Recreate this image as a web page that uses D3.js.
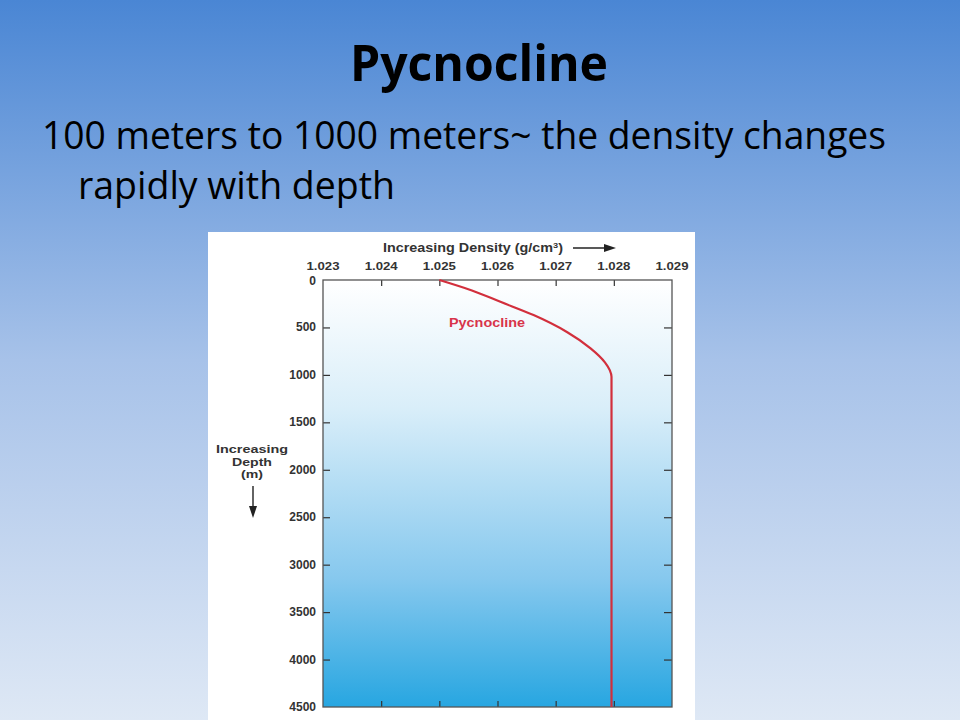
<!DOCTYPE html>
<html>
<head>
<meta charset="utf-8">
<script src="https://cdn.jsdelivr.net/npm/d3@7"></script>
<style>
  html, body { margin: 0; padding: 0; }
  body { width: 960px; height: 720px; overflow: hidden; }
</style>
</head>
<body>
<div class="slide"></div>
<script>
  // slide texts
  let title = 'Pycnocline'
  let bulletLines = ['100 meters to 1000 meters~ the density changes', 'rapidly with depth']

  // chart data
  let densityTicks = [1.023, 1.024, 1.025, 1.026, 1.027, 1.028, 1.029]
  let depthTicks = [0, 500, 1000, 1500, 2000, 2500, 3000, 3500, 4000, 4500]
  let profileDepth = [0, 110, 230, 370, 550, 720, 870, 950, 1020, 1200, 4500]
  let profileDensity = [1.0250, 1.02556, 1.02605, 1.02662, 1.0272, 1.0276, 1.02785, 1.02793, 1.02796, 1.02796, 1.02796]

  let svg = d3.select('.slide').append('svg')
    .attr('width', 960)
    .attr('height', 720)
  let defs = svg.append('defs')

  // slide background
  let bg = defs.append('linearGradient').attr('id', 'bg')
    .attr('x1', 0).attr('y1', 0).attr('x2', 0).attr('y2', 1)
  bg.selectAll('stop')
    .data([[0, '#4a86d4'], [0.5, '#a7c2e9'], [1, '#dee8f5']])
    .enter().append('stop')
    .attr('offset', d => d[0])
    .attr('stop-color', d => d[1])
  svg.append('rect').attr('width', 960).attr('height', 720).style('fill', 'url(#bg)')

  // title + bullet text
  svg.append('text')
    .attr('x', 479).attr('y', 81)
    .attr('text-anchor', 'middle')
    .attr('textLength', 258).attr('lengthAdjust', 'spacingAndGlyphs')
    .style('font-family', 'Open Sans, sans-serif')
    .style('font-weight', 'bold')
    .style('font-size', '50px')
    .style('fill', '#000')
    .text(title)
  let bulletPos = [{x: 42, y: 149, w: 844}, {x: 78, y: 199, w: 317}]
  svg.selectAll('text.bullet').data(bulletLines)
    .enter().append('text')
    .attr('class', 'bullet')
    .attr('x', (d, i) => bulletPos[i].x)
    .attr('y', (d, i) => bulletPos[i].y)
    .attr('textLength', (d, i) => bulletPos[i].w)
    .attr('lengthAdjust', 'spacingAndGlyphs')
    .style('font-family', 'Open Sans, sans-serif')
    .style('font-size', '38px')
    .style('fill', '#000')
    .text(d => d)

  // chart image box
  svg.append('rect')
    .attr('x', 208).attr('y', 232).attr('width', 487).attr('height', 488)
    .style('fill', '#fff')

  let plot = {left: 323, right: 672, top: 280, bottom: 707}
  let x = d3.scaleLinear().domain([1.023, 1.029]).range([plot.left, plot.right])
  let y = d3.scaleLinear().domain([0, 4500]).range([plot.top, plot.bottom])

  let water = defs.append('linearGradient').attr('id', 'water')
    .attr('x1', 0).attr('y1', 0).attr('x2', 0).attr('y2', 1)
  water.selectAll('stop')
    .data([[0, '#ffffff'], [0.3, '#d9eef9'], [0.7, '#86c8ee'], [1, '#27a6e1']])
    .enter().append('stop')
    .attr('offset', d => d[0])
    .attr('stop-color', d => d[1])
  svg.append('rect')
    .attr('x', plot.left).attr('y', plot.top)
    .attr('width', plot.right - plot.left).attr('height', plot.bottom - plot.top)
    .style('fill', 'url(#water)')

  let labelFont = g => g.style('font-family', 'Liberation Sans, Arial, sans-serif')
    .style('font-weight', 'bold').style('font-size', '11.5px').style('fill', '#333')

  // axes (ticks inside the frame)
  let inner = densityTicks.slice(1, -1)
  let innerDepth = depthTicks.slice(1, -1)
  let axisStyle = g => {
    g.select('.domain').remove()
    g.selectAll('.tick line').style('stroke', '#333').style('stroke-width', 1.2)
    g.selectAll('.tick text').remove()
  }
  svg.append('g').attr('transform', `translate(0,${plot.top})`)
    .call(d3.axisBottom(x).tickValues(inner).tickSize(6)).call(axisStyle)
  svg.append('g').attr('transform', `translate(0,${plot.bottom})`)
    .call(d3.axisTop(x).tickValues(inner).tickSize(6)).call(axisStyle)
  svg.append('g').attr('transform', `translate(${plot.left},0)`)
    .call(d3.axisRight(y).tickValues(innerDepth).tickSize(7)).call(axisStyle)
  svg.append('g').attr('transform', `translate(${plot.right},0)`)
    .call(d3.axisLeft(y).tickValues(innerDepth).tickSize(8)).call(axisStyle)

  svg.append('rect')
    .attr('x', plot.left).attr('y', plot.top)
    .attr('width', plot.right - plot.left).attr('height', plot.bottom - plot.top)
    .style('fill', 'none').style('stroke', '#555').style('stroke-width', 1.3)

  // tick labels
  svg.selectAll('text.xlab').data(densityTicks)
    .enter().append('text').attr('class', 'xlab')
    .attr('x', d => x(d) - 16.5).attr('y', 270)
    .attr('textLength', 33).attr('lengthAdjust', 'spacingAndGlyphs')
    .call(labelFont)
    .text(d => d3.format('.3f')(d))
  svg.selectAll('text.ylab').data(depthTicks)
    .enter().append('text').attr('class', 'ylab')
    .attr('x', 316).attr('y', d => y(d) + (d === 0 ? 5 : 4))
    .attr('text-anchor', 'end')
    .call(labelFont)
    .style('font-size', '12px')
    .text(d => d)

  // axis titles
  svg.append('text')
    .attr('x', 383).attr('y', 252)
    .call(labelFont)
    .style('font-size', '12.5px')
    .attr('textLength', 180).attr('lengthAdjust', 'spacingAndGlyphs')
    .html('Increasing Density (g/cm<tspan dy="-4" font-size="8px">3</tspan><tspan dy="4">)</tspan>')
  svg.append('line')
    .attr('x1', 573).attr('x2', 608).attr('y1', 248).attr('y2', 248)
    .style('stroke', '#222').style('stroke-width', 1.4)
  svg.append('path')
    .attr('d', 'M616,248 L604,244 L604,252 Z').style('fill', '#222')

  let yTitle = [{t: 'Increasing', w: 72}, {t: 'Depth', w: 40}, {t: '(m)', w: 22}]
  svg.selectAll('text.ytitle').data(yTitle)
    .enter().append('text').attr('class', 'ytitle')
    .attr('x', d => 252 - d.w / 2).attr('y', (d, i) => 453 + i * 12.5)
    .attr('textLength', d => d.w).attr('lengthAdjust', 'spacingAndGlyphs')
    .call(labelFont)
    .style('font-size', '11px')
    .text(d => d.t)
  svg.append('line')
    .attr('x1', 253).attr('x2', 253).attr('y1', 486).attr('y2', 509)
    .style('stroke', '#222').style('stroke-width', 1.4)
  svg.append('path')
    .attr('d', 'M253,518 L249,506 L257,506 Z').style('fill', '#222')

  // density profile
  let line = d3.line()
    .x(d => x(d[1]))
    .y(d => y(d[0]))
    .curve(d3.curveMonotoneY)
  svg.append('path')
    .datum(profileDepth.map((d, i) => [d, profileDensity[i]]))
    .attr('d', line)
    .style('fill', 'none')
    .style('stroke', '#d22f3c')
    .style('stroke-width', 2.2)

  svg.append('text')
    .attr('x', 449).attr('y', 327)
    .attr('textLength', 76).attr('lengthAdjust', 'spacingAndGlyphs')
    .style('font-family', 'Liberation Sans, Arial, sans-serif')
    .style('font-weight', 'bold').style('font-size', '13px')
    .style('fill', '#d8344a')
    .text('Pycnocline')
</script>
</body>
</html>
